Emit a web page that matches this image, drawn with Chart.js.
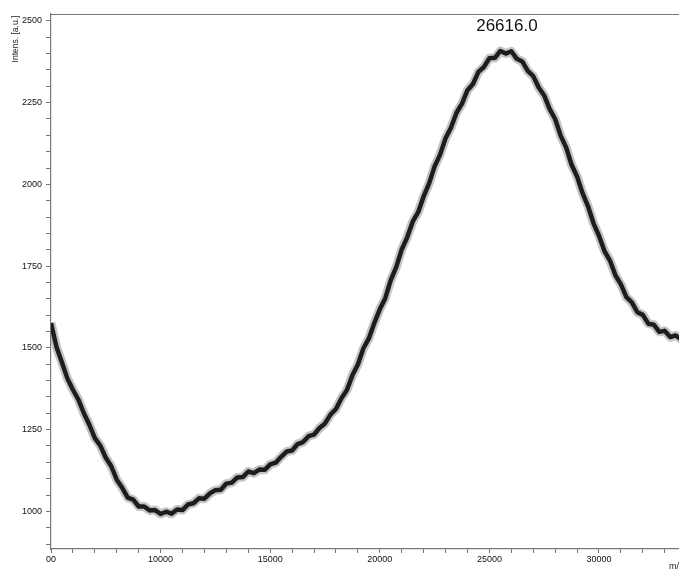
<!DOCTYPE html>
<html>
<head>
<meta charset="utf-8">
<script src="https://cdn.jsdelivr.net/npm/chart.js@4"></script>
<style>
    html, body { margin: 0; padding: 0; background: #fff; }
</style>
</head>
<body>
<canvas id="spectrum" width="679" height="569"></canvas>
<script>
// m/z positions of the trace (sampled every 250)
const mz = [
    5000, 5250, 5500, 5750, 6000, 6250, 6500, 6750, 7000, 7250,
    7500, 7750, 8000, 8250, 8500, 8750, 9000, 9250, 9500, 9750,
    10000, 10250, 10500, 10750, 11000, 11250, 11500, 11750, 12000, 12250,
    12500, 12750, 13000, 13250, 13500, 13750, 14000, 14250, 14500, 14750,
    15000, 15250, 15500, 15750, 16000, 16250, 16500, 16750, 17000, 17250,
    17500, 17750, 18000, 18250, 18500, 18750, 19000, 19250, 19500, 19750,
    20000, 20250, 20500, 20750, 21000, 21250, 21500, 21750, 22000, 22250,
    22500, 22750, 23000, 23250, 23500, 23750, 24000, 24250, 24500, 24750,
    25000, 25250, 25500, 25750, 26000, 26250, 26500, 26750, 27000, 27250,
    27500, 27750, 28000, 28250, 28500, 28750, 29000, 29250, 29500, 29750,
    30000, 30250, 30500, 30750, 31000, 31250, 31500, 31750, 32000, 32250,
    32500, 32750, 33000, 33250, 33500, 33750
];
const intensity = [
    1576, 1503, 1455, 1406, 1372, 1342, 1300, 1265, 1224, 1201,
    1164, 1138, 1097, 1072, 1042, 1036, 1015, 1015, 1003, 1004,
    992, 999, 993, 1006, 1004, 1021, 1025, 1040, 1039, 1055,
    1065, 1066, 1085, 1088, 1104, 1105, 1122, 1117, 1128, 1127,
    1144, 1149, 1167, 1183, 1186, 1206, 1212, 1230, 1235, 1255,
    1269, 1296, 1313, 1346, 1371, 1416, 1449, 1498, 1529, 1576,
    1618, 1652, 1707, 1747, 1801, 1838, 1886, 1915, 1963, 2003,
    2055, 2091, 2141, 2174, 2219, 2247, 2288, 2307, 2344, 2359,
    2386, 2387, 2408, 2400, 2407, 2384, 2376, 2347, 2331, 2296,
    2272, 2230, 2200, 2149, 2113, 2060, 2024, 1973, 1933, 1881,
    1843, 1796, 1767, 1722, 1694, 1655, 1639, 1609, 1601, 1574,
    1571, 1549, 1552, 1533, 1538, 1526
];
const xTickValues = [5000, 10000, 15000, 20000, 25000, 30000];
const xTickLabels = ['00', '10000', '15000', '20000', '25000', '30000'];
const yTickValues = [1000, 1250, 1500, 1750, 2000, 2250, 2500];
const peakLabel = '26616.0';
const peakMz = 25800;
const peakTop = 2470;

const points = mz.map((x, i) => ({ x: x, y: intensity[i] }));
const axisGrey = '#777';
const labelFont = { family: 'Liberation Sans, Arial, sans-serif', size: 9 };

const extraText = {
    id: 'extraText',
    afterDraw(chart) {
        const ctx = chart.ctx;
        const area = chart.chartArea;
        const xs = chart.scales.x, ys = chart.scales.y;
        ctx.save();
        // top frame line
        ctx.strokeStyle = axisGrey;
        ctx.lineWidth = 1.2;
        ctx.beginPath();
        ctx.moveTo(area.left, area.top + 0.5);
        ctx.lineTo(area.right, area.top + 0.5);
        ctx.stroke();
        // peak label
        ctx.fillStyle = '#111';
        ctx.font = '17px Liberation Sans, Arial, sans-serif';
        ctx.textAlign = 'center';
        ctx.textBaseline = 'alphabetic';
        ctx.fillText(peakLabel, xs.getPixelForValue(peakMz), ys.getPixelForValue(peakTop));
        // y axis title
        ctx.fillStyle = '#222';
        ctx.font = '8.5px Liberation Sans, Arial, sans-serif';
        ctx.translate(18, 39);
        ctx.rotate(-Math.PI / 2);
        ctx.fillText('Intens. [a.u.]', 0, 0);
        ctx.restore();
        // x axis unit, cut by the right edge
        ctx.save();
        ctx.fillStyle = '#222';
        ctx.font = '9px Liberation Sans, Arial, sans-serif';
        ctx.textAlign = 'left';
        ctx.fillText('m/z', 669, 569);
        ctx.restore();
    }
};

new Chart(document.querySelector('#spectrum'), {
    type: 'line',
    data: {
        datasets: [{
            label: 'noise',
            data: points,
            borderColor: 'rgba(60,60,60,0.3)',
            borderWidth: 9,
            pointRadius: 0,
            tension: 0,
            borderJoinStyle: 'round'
        }, {
            label: 'trace',
            data: points,
            borderColor: '#111',
            borderWidth: 4.5,
            pointRadius: 0,
            tension: 0,
            borderJoinStyle: 'round'
        }]
    },
    options: {
        responsive: false,
        devicePixelRatio: 1,
        animation: false,
        layout: { padding: { top: 14, right: 0, left: 0, bottom: 0 } },
        plugins: {
            legend: { display: false },
            tooltip: { enabled: false }
        },
        scales: {
            x: {
                type: 'linear',
                min: 5000,
                max: 33650,
                afterBuildTicks: (scale) => {
                    const t = [];
                    for (let v = 5000; v <= 33000; v += 1000) t.push({ value: v });
                    scale.ticks = t;
                },
                afterFit: (scale) => { scale.height = 20; },
                grid: { drawOnChartArea: false, tickLength: 4, color: axisGrey },
                border: { color: axisGrey, width: 1.2 },
                ticks: {
                    autoSkip: false,
                    maxRotation: 0,
                    padding: 1,
                    color: '#111',
                    font: labelFont,
                    callback: (v) => {
                        const i = xTickValues.indexOf(v);
                        return i >= 0 ? xTickLabels[i] : '';
                    }
                }
            },
            y: {
                min: 885,
                max: 2521,
                afterBuildTicks: (scale) => {
                    const t = [];
                    for (let v = 900; v <= 2500; v += 50) t.push({ value: v });
                    scale.ticks = t;
                },
                afterFit: (scale) => { scale.width = 51; },
                grid: { drawOnChartArea: false, tickLength: 5, color: axisGrey },
                border: { color: axisGrey, width: 1.2 },
                ticks: {
                    autoSkip: false,
                    padding: 4,
                    color: '#111',
                    font: labelFont,
                    callback: (v) => yTickValues.includes(v) ? String(v) : ''
                }
            }
        }
    },
    plugins: [extraText]
});
</script>
</body>
</html>
